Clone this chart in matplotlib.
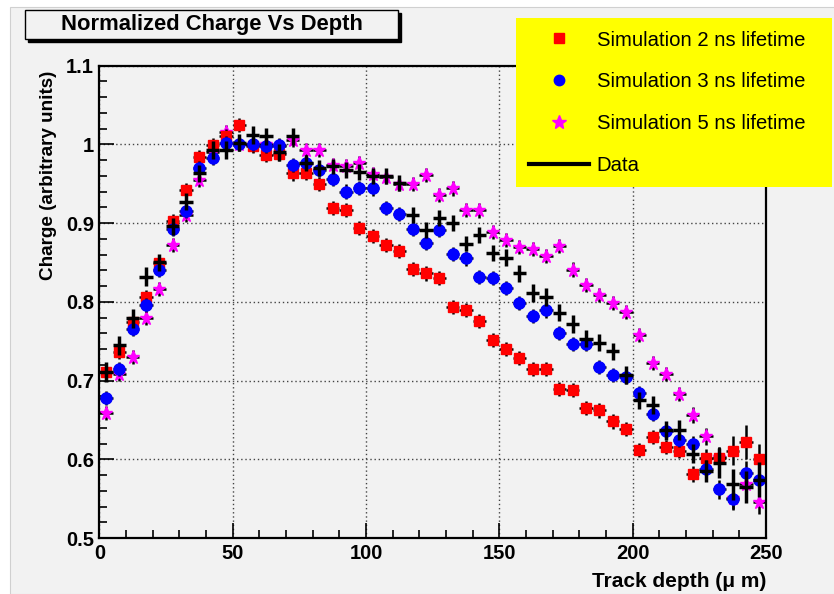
import numpy as np
import matplotlib
matplotlib.use("Agg")
import matplotlib.pyplot as plt
from matplotlib.patches import Rectangle
from matplotlib.lines import Line2D

plt.rcParams['font.family'] = ['Liberation Sans', 'DejaVu Sans']

# 5 um bins, centres
depth = np.arange(2.5, 250, 5.0)
depth_err = 2.5

charge_2ns = [0.711, 0.736, 0.774, 0.806, 0.849, 0.902, 0.942, 0.984, 0.999, 1.011,
              1.025, 0.998, 0.986, 0.988, 0.963, 0.964, 0.950, 0.919, 0.917, 0.894,
              0.884, 0.872, 0.864, 0.842, 0.836, 0.830, 0.793, 0.790, 0.776, 0.751,
              0.740, 0.729, 0.715, 0.715, 0.689, 0.688, 0.665, 0.662, 0.648, 0.638,
              0.612, 0.628, 0.616, 0.611, 0.581, 0.601, 0.601, 0.611, 0.622, 0.600]
charge_3ns = [0.678, 0.715, 0.765, 0.796, 0.840, 0.893, 0.915, 0.970, 0.983, 1.002,
              1.000, 1.000, 0.998, 0.999, 0.974, 0.976, 0.968, 0.956, 0.940, 0.945,
              0.944, 0.919, 0.911, 0.892, 0.875, 0.891, 0.861, 0.855, 0.831, 0.830,
              0.818, 0.798, 0.782, 0.789, 0.760, 0.746, 0.746, 0.717, 0.707, 0.705,
              0.684, 0.658, 0.636, 0.624, 0.619, 0.588, 0.562, 0.550, 0.582, 0.574]
charge_5ns = [0.659, 0.708, 0.730, 0.779, 0.816, 0.872, 0.910, 0.955, 0.990, 1.016,
              1.000, 0.999, 1.000, 0.998, 1.005, 0.993, 0.993, 0.974, 0.972, 0.976,
              0.962, 0.958, 0.950, 0.950, 0.961, 0.936, 0.944, 0.917, 0.916, 0.889,
              0.879, 0.870, 0.867, 0.858, 0.871, 0.841, 0.821, 0.809, 0.799, 0.787,
              0.758, 0.722, 0.708, 0.683, 0.656, 0.629, 0.603, 0.551, 0.568, 0.546]
charge_data = [0.711, 0.745, 0.779, 0.832, 0.850, 0.896, 0.927, 0.963, 0.993, 0.993,
               1.002, 1.012, 1.010, 0.990, 1.010, 0.976, 0.970, 0.972, 0.967, 0.965,
               0.960, 0.960, 0.951, 0.910, 0.891, 0.906, 0.900, 0.874, 0.885, 0.862,
               0.856, 0.836, 0.811, 0.806, 0.786, 0.772, 0.753, 0.748, 0.737, 0.707,
               0.675, 0.669, 0.637, 0.637, 0.607, 0.585, 0.595, 0.568, 0.565, 0.574]
err_data = [0.013, 0.012, 0.012, 0.012, 0.011, 0.011, 0.011, 0.011, 0.011, 0.011,
            0.011, 0.011, 0.011, 0.011, 0.011, 0.010, 0.010, 0.010, 0.010, 0.010,
            0.010, 0.010, 0.010, 0.010, 0.010, 0.010, 0.010, 0.010, 0.010, 0.010,
            0.011, 0.011, 0.011, 0.011, 0.011, 0.011, 0.011, 0.011, 0.011, 0.011,
            0.011, 0.011, 0.012, 0.013, 0.012, 0.014, 0.019, 0.020, 0.020, 0.022]
err_2ns = [0.009] * 44 + [0.010, 0.012, 0.014, 0.018, 0.022, 0.020]
err_3ns = [0.009] * 44 + [0.010, 0.011, 0.012, 0.014, 0.016, 0.016]
err_5ns = [0.009] * 44 + [0.010, 0.011, 0.012, 0.014, 0.016, 0.016]

canvas = '#f2f2f2'
fig = plt.figure(figsize=(8.34, 5.94), dpi=100)
fig.patch.set_facecolor('white')
fig.add_artist(Rectangle((10 / 834, 0), 1, 1 - 7 / 594, transform=fig.transFigure,
                         facecolor=canvas, edgecolor='#d0d0d0', lw=0.8, zorder=-10))

ax = fig.add_axes([99.4 / 834, 56 / 594, 666.6 / 834, 472.4 / 594])
ax.set_facecolor(canvas)

sims = [(charge_5ns, err_5ns, '*', 'magenta', 9.8),
        (charge_2ns, err_2ns, 's', 'red', 7.2),
        (charge_3ns, err_3ns, 'o', 'blue', 8.0)]
for i, (vals, errs, mk, col, ms) in enumerate(sims):
    ax.errorbar(depth, vals, xerr=depth_err, yerr=errs, fmt='none', ecolor='black',
                elinewidth=1.8, capsize=0, zorder=2 + i * 0.1)
    ax.plot(depth, vals, ls='none', marker=mk, color=col, ms=ms, mec=col,
            zorder=2.05 + i * 0.1)

ax.errorbar(depth, charge_data, xerr=depth_err, yerr=err_data, fmt='none',
            ecolor='black', elinewidth=2.5, capsize=0, zorder=3)

ax.set_xlim(0, 250)
ax.set_ylim(0.5, 1.1)
ax.set_xticks(np.arange(0, 251, 50))
ax.set_xticks(np.arange(0, 251, 10), minor=True)
ax.set_yticks(np.arange(0.5, 1.11, 0.1))
ax.set_yticks(np.arange(0.5, 1.11, 0.02), minor=True)
ax.set_yticklabels(['0.5', '0.6', '0.7', '0.8', '0.9', '1', '1.1'])
ax.tick_params(which='both', direction='in', top=False, right=False, width=1.2)
ax.tick_params(which='major', length=11, labelsize=14.5, pad=4)
ax.tick_params(which='minor', length=6)
for lab in ax.get_xticklabels() + ax.get_yticklabels():
    lab.set_fontweight('bold')
ax.grid(True, which='major', color='#444444', ls=(0, (1, 2)), lw=1)
for sp in ax.spines.values():
    sp.set_linewidth(1.6)

ax.set_xlabel('Track depth (μ m)', fontsize=15, fontweight='bold', loc='right')
ax.xaxis.set_label_coords(1.0, -0.073)
ax.set_ylabel('Charge (arbitrary units)', fontsize=13.6, fontweight='bold', loc='top')
ax.yaxis.set_label_coords(-0.063, 0.99)

# title box with shadow
bx, by, bw, bh = 25 / 834, 1 - 39 / 594, 373 / 834, 29 / 594
fig.add_artist(Rectangle((bx + 3 / 834, by - 3 / 594), bw, bh, transform=fig.transFigure,
                         facecolor='black', edgecolor='black', zorder=5))
fig.add_artist(Rectangle((bx, by), bw, bh, transform=fig.transFigure,
                         facecolor=canvas, edgecolor='black', lw=1, zorder=6))
fig.text(bx + bw / 2, by + bh / 2, 'Normalized Charge Vs Depth', ha='center', va='center',
         fontsize=15.8, fontweight='bold', zorder=7)

handles = [Line2D([], [], ls='none', marker='s', color='red', ms=7),
           Line2D([], [], ls='none', marker='o', color='blue', ms=7.5),
           Line2D([], [], ls='none', marker='*', color='magenta', ms=10),
           Line2D([], [], color='black', lw=3)]
labels = ['Simulation 2 ns lifetime', 'Simulation 3 ns lifetime',
          'Simulation 5 ns lifetime', 'Data']
leg = fig.legend(handles, labels, loc='upper left',
                 bbox_to_anchor=(516 / 834, 1 - 183 / 594, 316 / 834, 165 / 594),
                 mode='expand', borderaxespad=0, fontsize=14.6, facecolor='yellow',
                 edgecolor='yellow', fancybox=False, framealpha=1, labelspacing=1.12,
                 handlelength=3.0, handletextpad=0.35, borderpad=0.62)
leg.get_frame().set_linewidth(0)
leg.set_zorder(10)

fig.savefig('out.png', dpi=100)
